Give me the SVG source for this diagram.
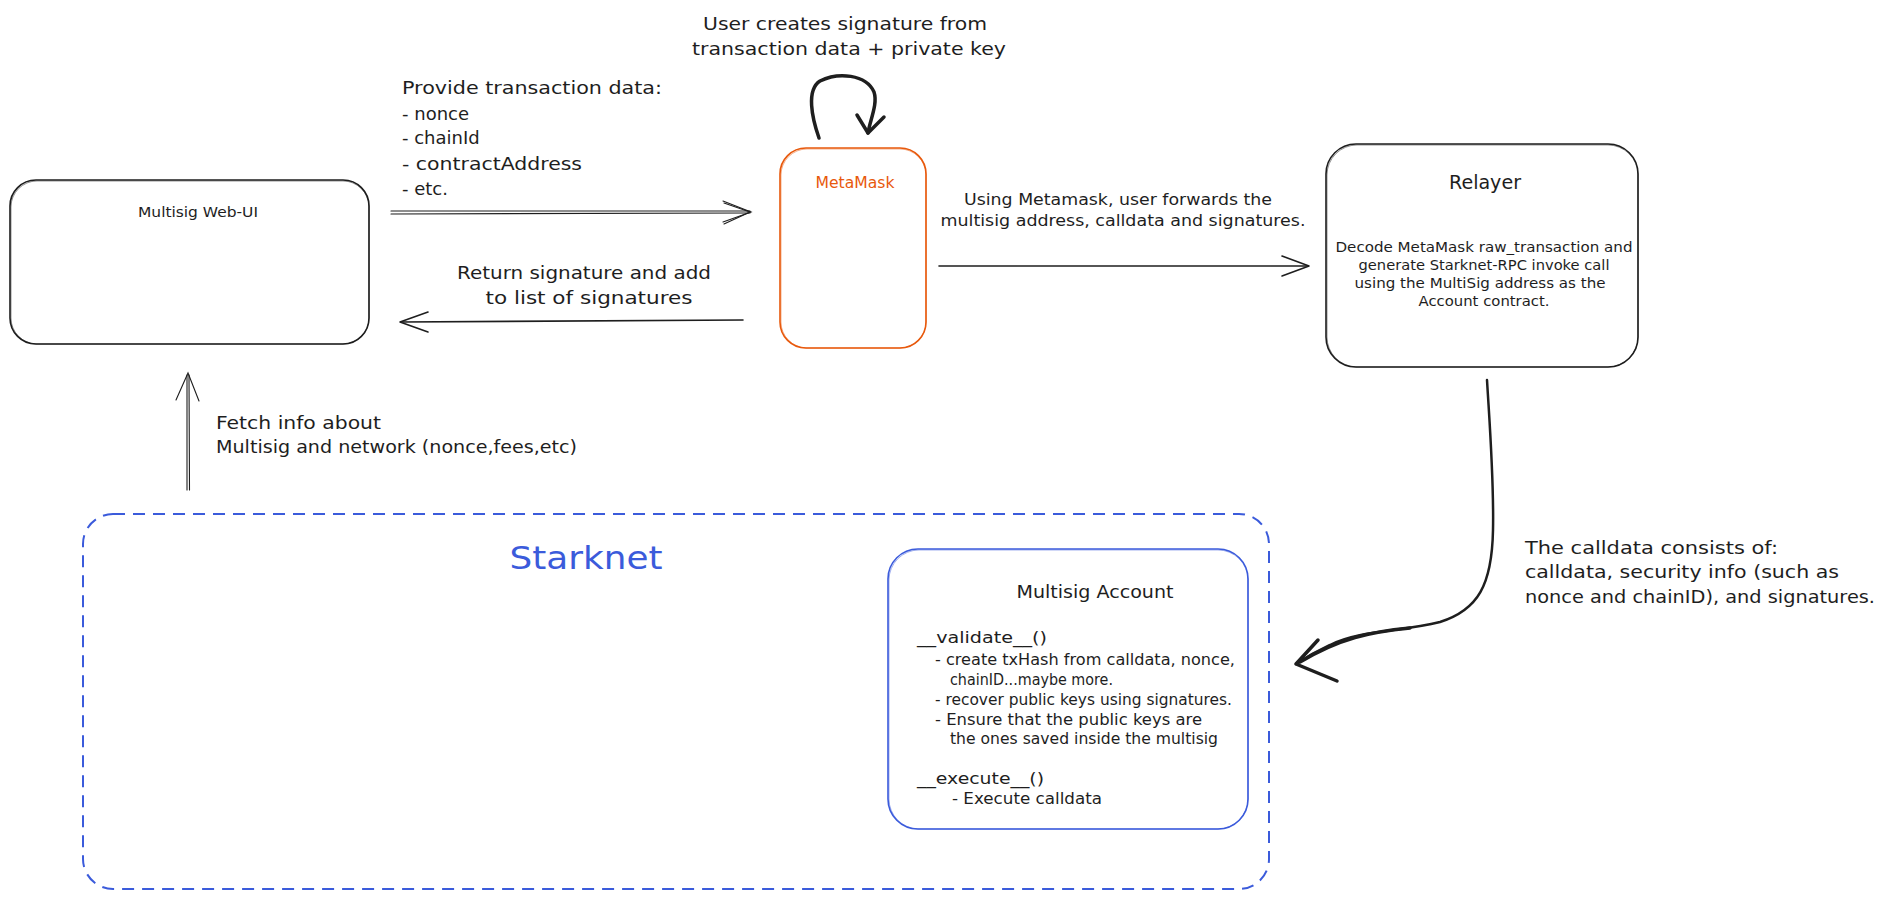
<svg xmlns="http://www.w3.org/2000/svg" width="1885" height="899" viewBox="0 0 1885 899">
<defs>
<style>
text{font-family:"DejaVu Sans","Liberation Sans",sans-serif;fill:#1e1e1e}
.box{fill:none;stroke:#1e1e1e;stroke-width:1.6}
.box2{fill:none;stroke:#1e1e1e;stroke-width:0.8;opacity:0.6}
.ln{fill:none;stroke:#1e1e1e;stroke-width:1.6;stroke-linecap:round;stroke-linejoin:round}
.thin{fill:none;stroke:#1e1e1e;stroke-width:1.1;stroke-linecap:round}
.thick{fill:none;stroke:#1e1e1e;stroke-width:3.5;stroke-linecap:round;stroke-linejoin:round}
.blue{fill:none;stroke:#3b5bdb;stroke-width:1.6}
.c{text-anchor:middle}
</style>
</defs>
<rect width="1885" height="899" fill="#ffffff"/>

<g id="starknet">
<rect x="83" y="514" width="1186" height="375" rx="30" fill="none" stroke="#3b5bdb" stroke-width="2" stroke-dasharray="12 8"/>
<text x="586" y="569" class="c" font-size="32" style="fill:#3b5bdb" textLength="153" lengthAdjust="spacingAndGlyphs">Starknet</text>
</g>

<g id="web-ui">
<rect x="10" y="180" width="359" height="164" rx="26" class="box"/>
<rect x="11" y="181" width="358" height="163" rx="26" class="box2"/>
<text x="198" y="217" class="c" font-size="14" textLength="120" lengthAdjust="spacingAndGlyphs">Multisig Web-UI</text>
</g>

<g id="metamask">
<rect x="780" y="148" width="146" height="200" rx="26" fill="none" stroke="#e8590c" stroke-width="1.6"/>
<rect x="781" y="149" width="145" height="199" rx="26" fill="none" stroke="#e8590c" stroke-width="0.8" opacity="0.6"/>
<text x="855" y="188" class="c" font-size="15" style="fill:#e8590c" textLength="79" lengthAdjust="spacingAndGlyphs">MetaMask</text>
</g>

<g id="relayer">
<rect x="1326" y="144" width="312" height="223" rx="30" class="box"/>
<rect x="1327" y="145" width="311" height="222" rx="30" class="box2"/>
<text x="1485" y="189" class="c" font-size="19" textLength="72" lengthAdjust="spacingAndGlyphs">Relayer</text>
<text x="1484" y="252" class="c" font-size="14" textLength="297" lengthAdjust="spacingAndGlyphs">Decode MetaMask raw_transaction and</text>
<text x="1484" y="270" class="c" font-size="14" textLength="251" lengthAdjust="spacingAndGlyphs">generate Starknet-RPC invoke call</text>
<text x="1480" y="288" class="c" font-size="14" textLength="251" lengthAdjust="spacingAndGlyphs">using the MultiSig address as the</text>
<text x="1484" y="306" class="c" font-size="14" textLength="131" lengthAdjust="spacingAndGlyphs">Account contract.</text>
</g>

<g id="multisig-account">
<rect x="888" y="549" width="360" height="280" rx="30" class="blue"/>
<rect x="889" y="550" width="359" height="279" rx="30" fill="none" stroke="#3b5bdb" stroke-width="0.8" opacity="0.6"/>
<text x="1095" y="598" class="c" font-size="18" textLength="157" lengthAdjust="spacingAndGlyphs">Multisig Account</text>
<text x="917" y="643" font-size="15" textLength="130" lengthAdjust="spacingAndGlyphs">__validate__()</text>
<text x="935" y="665" font-size="15" textLength="300" lengthAdjust="spacingAndGlyphs">- create txHash from calldata, nonce,</text>
<text x="950" y="685" font-size="15" textLength="163" lengthAdjust="spacingAndGlyphs">chainID...maybe more.</text>
<text x="935" y="705" font-size="15" textLength="297" lengthAdjust="spacingAndGlyphs">- recover public keys using signatures.</text>
<text x="935" y="725" font-size="15" textLength="267" lengthAdjust="spacingAndGlyphs">- Ensure that the public keys are</text>
<text x="950" y="744" font-size="15" textLength="268" lengthAdjust="spacingAndGlyphs">the ones saved inside the multisig</text>
<text x="917" y="784" font-size="15" textLength="127" lengthAdjust="spacingAndGlyphs">__execute__()</text>
<text x="952" y="804" font-size="15" textLength="150" lengthAdjust="spacingAndGlyphs">- Execute calldata</text>
</g>

<g id="connectors">
<!-- Web-UI -> MetaMask (double stroke) -->
<line x1="391" y1="211" x2="750" y2="211" class="thin"/>
<line x1="391" y1="214" x2="750" y2="213" class="thin"/>
<polyline points="723,201 751,212 723,222" class="thin"/>
<polyline points="724,203 750,212 724,224" class="thin"/>
<!-- MetaMask self loop -->
<path d="M819,138 C812,118 806,90 820,81 C838,72 866,74 874,92 C878,104 870,120 868,133" class="thick"/>
<polyline points="857,115 868,133 884,117" class="thick"/>
<!-- MetaMask -> Web-UI -->
<line x1="743" y1="320" x2="401" y2="322" class="ln"/>
<polyline points="428,312 400,322 428,332" class="ln"/>
<!-- MetaMask -> Relayer -->
<line x1="939" y1="266" x2="1308" y2="266" class="ln"/>
<polyline points="1282,256 1309,266 1282,276" class="ln"/>
<!-- Starknet -> Web-UI (double stroke) -->
<line x1="187" y1="490" x2="187" y2="375" class="thin"/>
<line x1="189.5" y1="490" x2="189" y2="375" class="thin"/>
<polyline points="176,400 188,373 199,401" class="thin"/>
<!-- Relayer -> Multisig Account -->
<path d="M1487,380 C1490,430 1494,480 1493,530 C1492,585 1478,610 1440,622 C1400,632 1360,630 1330,645 C1315,652 1305,658 1296,664" fill="none" stroke="#1e1e1e" stroke-width="2.5" stroke-linecap="round"/>
<path d="M1410,628 C1370,632 1340,638 1300,662" fill="none" stroke="#1e1e1e" stroke-width="3.5" stroke-linecap="round"/>
<polyline points="1318,640 1296,664 1337,681" class="thick"/>
</g>

<g id="labels">
<text x="845" y="30" class="c" font-size="18" textLength="284" lengthAdjust="spacingAndGlyphs">User creates signature from</text>
<text x="849" y="55" class="c" font-size="18" textLength="314" lengthAdjust="spacingAndGlyphs">transaction data + private key</text>
<text x="402" y="94" font-size="18" textLength="260" lengthAdjust="spacingAndGlyphs">Provide transaction data:</text>
<text x="402" y="120" font-size="18">- nonce</text>
<text x="402" y="144" font-size="18">- chainId</text>
<text x="402" y="170" font-size="18" textLength="180" lengthAdjust="spacingAndGlyphs">- contractAddress</text>
<text x="402" y="195" font-size="18">- etc.</text>
<text x="584" y="279" class="c" font-size="18" textLength="254" lengthAdjust="spacingAndGlyphs">Return signature and add</text>
<text x="589" y="304" class="c" font-size="18" textLength="207" lengthAdjust="spacingAndGlyphs">to list of signatures</text>
<text x="1118" y="205" class="c" font-size="16" textLength="308" lengthAdjust="spacingAndGlyphs">Using Metamask, user forwards the</text>
<text x="1123" y="226" class="c" font-size="16" textLength="365" lengthAdjust="spacingAndGlyphs">multisig address, calldata and signatures.</text>
<text x="216" y="429" font-size="17" textLength="165" lengthAdjust="spacingAndGlyphs">Fetch info about</text>
<text x="216" y="453" font-size="17" textLength="361" lengthAdjust="spacingAndGlyphs">Multisig and network (nonce,fees,etc)</text>
<text x="1525" y="554" font-size="17" textLength="253" lengthAdjust="spacingAndGlyphs">The calldata consists of:</text>
<text x="1525" y="578" font-size="17" textLength="314" lengthAdjust="spacingAndGlyphs">calldata, security info (such as</text>
<text x="1525" y="603" font-size="17" textLength="350" lengthAdjust="spacingAndGlyphs">nonce and chainID), and signatures.</text>
</g>
</svg>
